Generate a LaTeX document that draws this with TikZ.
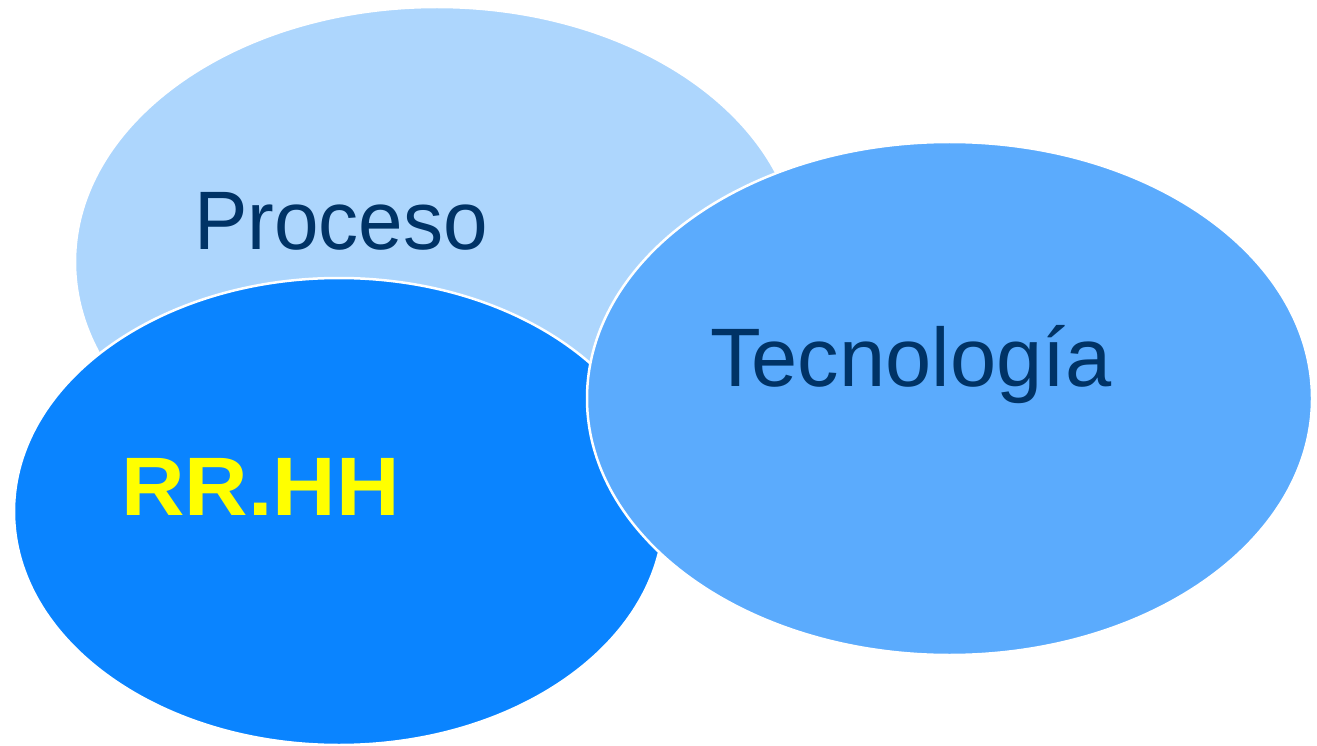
\documentclass[tikz,border=0pt]{standalone}
\usepackage{fontspec}
\setmainfont{Liberation Sans}
\definecolor{procfill}{RGB}{173,214,253}
\definecolor{rrfill}{RGB}{10,132,255}
\definecolor{tecfill}{RGB}{91,171,253}
\definecolor{navy}{RGB}{0,51,102}
\definecolor{yel}{RGB}{255,255,0}
\tikzset{
  blob/.style={draw=white, line width=2.5pt},
  lbl/.style={anchor=base west, inner sep=0pt, font=\fontsize{83}{90}\selectfont},
}
\begin{document}
\begin{tikzpicture}[x=1pt,y=-1pt]
\useasboundingbox (0,0) rectangle (1317,746);
\fill[white] (0,0) rectangle (1317,746);
\draw[blob, fill=procfill] (437,262) ellipse [x radius=362, y radius=255];
\draw[blob, fill=rrfill] (339,511.5) ellipse [x radius=325, y radius=233.5];
\draw[blob, fill=tecfill] (949.5,398.5) ellipse [x radius=362.5, y radius=256.5];
\node[lbl, text=navy, xscale=0.965] (proc) at (194,250) {Proceso};
\node[lbl, text=navy] (tec) at (710,386) {Tecnología};
\node[lbl, text=yel, xscale=1.06, font=\fontsize{83}{90}\selectfont\bfseries] (rr) at (121,515) {RR.HH};
\end{tikzpicture}
\end{document}
